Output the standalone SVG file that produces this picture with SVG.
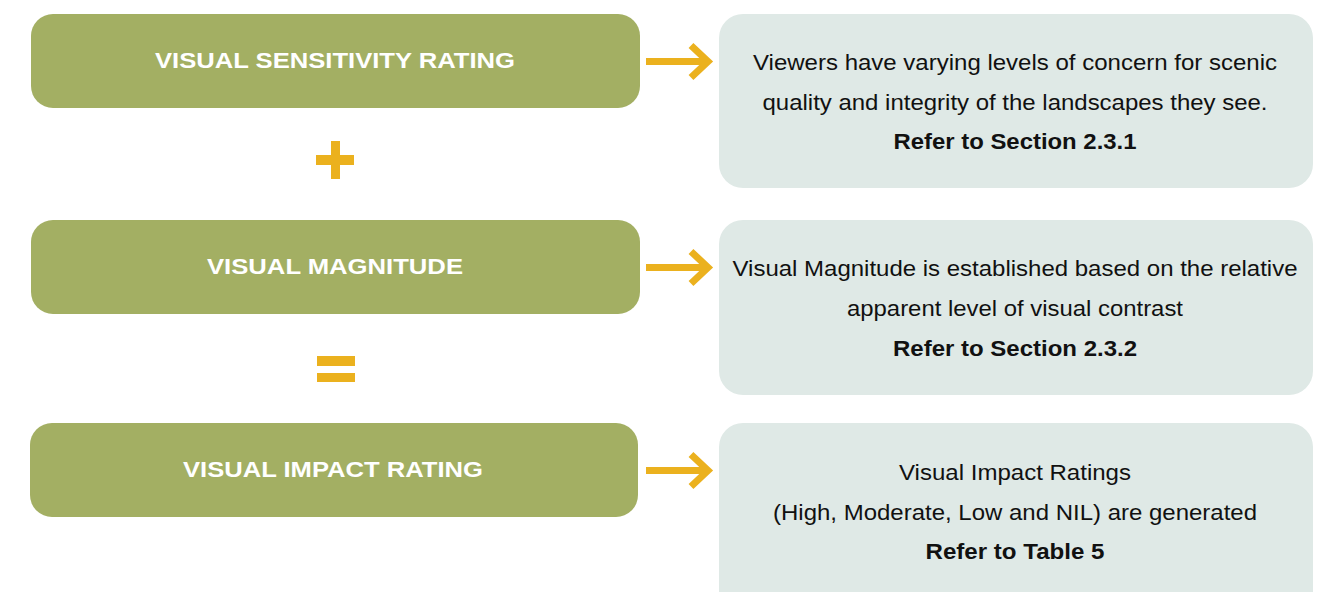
<svg xmlns="http://www.w3.org/2000/svg" width="1322" height="592" viewBox="0 0 1322 592">
  <defs>
    <style>
      .step { fill: #a3af63; }
      .note { fill: #dfe9e6; }
      .title { font-family: "Liberation Sans", Arial, sans-serif; font-weight: bold; font-size: 22px; fill: #ffffff; text-anchor: middle; }
      .desc { font-family: "Liberation Sans", Arial, sans-serif; font-size: 22px; fill: #111111; text-anchor: middle; }
      .ref { font-weight: bold; }
      .op { fill: #ebb11e; }
      .arrow { stroke: #ebb11e; stroke-width: 7; fill: none; }
    </style>
    <g id="arrowShape">
      <line class="arrow" x1="646" y1="0" x2="708" y2="0"/>
      <polyline class="arrow" points="691,-16 708,0 691,16" stroke-linejoin="miter"/>
    </g>
  </defs>

  <g id="node-sensitivity">
    <rect class="step" x="31" y="14" width="609" height="94" rx="22"/>
    <text class="title" x="335" y="68" textLength="360" lengthAdjust="spacingAndGlyphs">VISUAL SENSITIVITY RATING</text>
  </g>
  <g id="node-sensitivity-note">
    <rect class="note" x="719" y="14" width="594" height="174" rx="24"/>
    <text class="desc" x="1015" y="70" textLength="524" lengthAdjust="spacingAndGlyphs">Viewers have varying levels of concern for scenic</text>
    <text class="desc" x="1015" y="110" textLength="505" lengthAdjust="spacingAndGlyphs">quality and integrity of the landscapes they see.</text>
    <text class="desc ref" x="1015" y="149" textLength="243" lengthAdjust="spacingAndGlyphs">Refer to Section 2.3.1</text>
  </g>

  <g id="operator-plus">
    <rect class="op" x="316" y="155" width="38" height="10"/>
    <rect class="op" x="331" y="141" width="9" height="38"/>
  </g>

  <g id="node-magnitude">
    <rect class="step" x="31" y="220" width="609" height="94" rx="22"/>
    <text class="title" x="335" y="274" textLength="256" lengthAdjust="spacingAndGlyphs">VISUAL MAGNITUDE</text>
  </g>
  <g id="node-magnitude-note">
    <rect class="note" x="719" y="220" width="594" height="175" rx="24"/>
    <text class="desc" x="1015" y="276" textLength="565" lengthAdjust="spacingAndGlyphs">Visual Magnitude is established based on the relative</text>
    <text class="desc" x="1015" y="316" textLength="336" lengthAdjust="spacingAndGlyphs">apparent level of visual contrast</text>
    <text class="desc ref" x="1015" y="356" textLength="244" lengthAdjust="spacingAndGlyphs">Refer to Section 2.3.2</text>
  </g>

  <g id="operator-equals">
    <rect class="op" x="317" y="356" width="38" height="10"/>
    <rect class="op" x="317" y="373" width="38" height="9"/>
  </g>

  <g id="node-impact">
    <rect class="step" x="30" y="423" width="608" height="94" rx="22"/>
    <text class="title" x="333" y="477" textLength="300" lengthAdjust="spacingAndGlyphs">VISUAL IMPACT RATING</text>
  </g>
  <g id="node-impact-note">
    <rect class="note" x="719" y="423" width="594" height="200" rx="24"/>
    <text class="desc" x="1015" y="480" textLength="232" lengthAdjust="spacingAndGlyphs">Visual Impact Ratings</text>
    <text class="desc" x="1015" y="520" textLength="484" lengthAdjust="spacingAndGlyphs">(High, Moderate, Low and NIL) are generated</text>
    <text class="desc ref" x="1015" y="559" textLength="179" lengthAdjust="spacingAndGlyphs">Refer to Table 5</text>
  </g>

  <g id="connectors">
    <use href="#arrowShape" transform="translate(0,61.5)"/>
    <use href="#arrowShape" transform="translate(0,267.5)"/>
    <use href="#arrowShape" transform="translate(0,470.5)"/>
  </g>
</svg>
